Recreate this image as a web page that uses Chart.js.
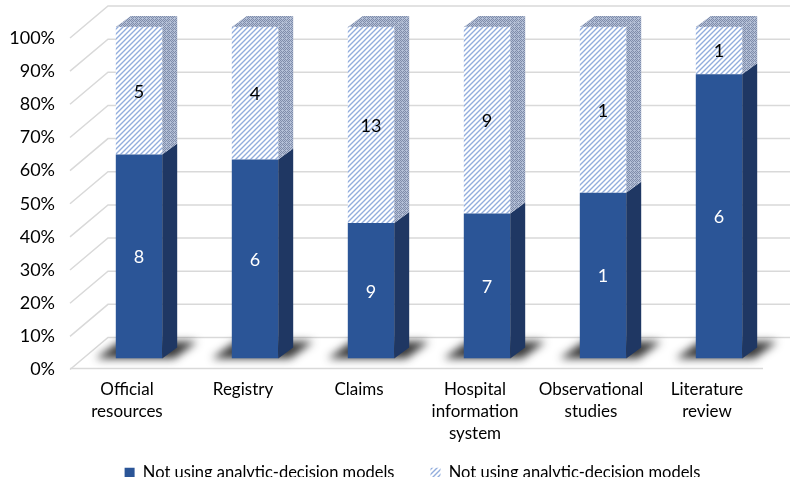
<!DOCTYPE html>
<html>
<head>
<meta charset="utf-8">
<script src="https://cdn.jsdelivr.net/npm/chart.js@4.4.1/dist/chart.umd.min.js"></script>
<style>
  html, body { margin: 0; padding: 0; background: #fff; }
  #wrap { width: 793px; height: 477px; overflow: hidden; }
</style>
</head>
<body>
<div id="wrap"><canvas id="graphique" width="793" height="511"></canvas></div>
<script>
// données (nombre d'études)
const categories = [['Official', 'resources'], ['Registry'], ['Claims'], ['Hospital', 'information', 'system'], ['Observational', 'studies'], ['Literature', 'review']];
const seriesNames = ['Not using analytic-decision models', 'Not using analytic-decision models'];
const countsSolid = [8, 6, 9, 7, 1, 6];
const countsHatch = [5, 4, 13, 9, 1, 1];
const yTicks = [0, 10, 20, 30, 40, 50, 60, 70, 80, 90, 100];

const blue = '#2b5597';
const blueSide = '#1f3763';
const depthX = 15;   // profondeur 3D
const depthY = -11;

// histogramme 100% : part de chaque série
const totals = countsSolid.map((v, i) => v + countsHatch[i]);
const pctSolid = countsSolid.map((v, i) => v / totals[i] * 100);
const pctHatch = countsHatch.map((v, i) => v / totals[i] * 100);

function makeHatch() {
    const c = document.createElement('canvas');
    c.width = 5; c.height = 5;
    const g = c.getContext('2d');
    g.fillStyle = '#ffffff';
    g.fillRect(0, 0, 5, 5);
    g.strokeStyle = '#92addd';
    g.lineWidth = 1.4;
    g.beginPath();
    g.moveTo(-1, 6); g.lineTo(6, -1);
    g.moveTo(-1, 1); g.lineTo(1, -1);
    g.moveTo(4, 6); g.lineTo(6, 4);
    g.stroke();
    return g.createPattern(c, 'repeat');
}

function makeCross() {
    const c = document.createElement('canvas');
    c.width = 4; c.height = 4;
    const g = c.getContext('2d');
    g.fillStyle = '#b3bfd6';
    g.fillRect(0, 0, 4, 4);
    g.fillStyle = '#7f8caa';
    g.fillRect(0, 0, 1, 1); g.fillRect(2, 0, 1, 1);
    g.fillRect(1, 1, 1, 1); g.fillRect(3, 1, 1, 1);
    g.fillRect(0, 2, 1, 1); g.fillRect(3, 3, 1, 1);
    g.fillRect(1, 3, 1, 1);
    return g.createPattern(c, 'repeat');
}

const hatch = makeHatch();
const cross = makeCross();

// mur du fond, sol et ombres
const decorPlugin = {
    id: 'decor',
    afterLayout(chart) {
        // légende placée comme dans l'original (coupée en bas)
        chart.legend.left += 24;
        chart.legend.right += 24;
        chart.legend.top -= 20;
        chart.legend.bottom -= 20;
    },
    beforeDatasetsDraw(chart) {
        const ctx = chart.ctx;
        const y = chart.scales.y;
        ctx.save();
        ctx.strokeStyle = '#d9d9d9';
        ctx.lineWidth = 1.5;
        yTicks.forEach(v => {
            const py = y.getPixelForValue(v);
            ctx.beginPath();
            ctx.moveTo(70, py + 11);
            ctx.lineTo(108, py - 21);
            ctx.lineTo(790, py - 21);
            ctx.stroke();
        });
        const y0 = y.getPixelForValue(0);
        ctx.beginPath();
        ctx.moveTo(70, y0 + 10);
        ctx.lineTo(763, y0 + 10);
        ctx.stroke();

        // ombres au sol
        const meta = chart.getDatasetMeta(0);
        ctx.filter = 'blur(4px)';
        ctx.fillStyle = 'rgba(20,20,20,0.85)';
        meta.data.forEach(bar => {
            const l = bar.x - bar.width / 2;
            const r = bar.x + bar.width / 2;
            const b = bar.base;
            ctx.beginPath();
            ctx.moveTo(l - 20, b);
            ctx.lineTo(r + 12, b);
            ctx.lineTo(r + depthX + 20, b - 17);
            ctx.lineTo(l + 4, b - 17);
            ctx.closePath();
            ctx.fill();
        });
        ctx.restore();
    },
    afterDatasetsDraw(chart) {
        const ctx = chart.ctx;
        ctx.save();
        chart.data.datasets.forEach((ds, di) => {
            const meta = chart.getDatasetMeta(di);
            meta.data.forEach(bar => {
                const l = bar.x - bar.width / 2;
                const r = bar.x + bar.width / 2;
                const top = bar.y, bot = bar.base;
                // face de côté
                ctx.fillStyle = di === 0 ? blueSide : cross;
                ctx.beginPath();
                ctx.moveTo(r, top);
                ctx.lineTo(r + depthX, top + depthY);
                ctx.lineTo(r + depthX, bot + depthY);
                ctx.lineTo(r, bot);
                ctx.closePath();
                ctx.fill();
                // dessus
                if (di === chart.data.datasets.length - 1) {
                    ctx.beginPath();
                    ctx.moveTo(l, top);
                    ctx.lineTo(r, top);
                    ctx.lineTo(r + depthX, top + depthY);
                    ctx.lineTo(l + depthX, top + depthY);
                    ctx.closePath();
                    ctx.fill();
                }
            });
        });
        // étiquettes de données
        ctx.font = '18px Lato';
        ctx.textAlign = 'center';
        ctx.textBaseline = 'middle';
        const counts = [countsSolid, countsHatch];
        chart.data.datasets.forEach((ds, di) => {
            const meta = chart.getDatasetMeta(di);
            meta.data.forEach((bar, i) => {
                ctx.fillStyle = di === 0 ? '#ffffff' : '#000000';
                ctx.fillText(String(counts[di][i]), bar.x, (bar.y + bar.base) / 2 + 1);
            });
        });
        ctx.restore();
    }
};

const ctx = document.getElementById('graphique').getContext('2d');
const myChart = new Chart(ctx, {
    type: 'bar',
    data: {
        labels: categories,
        datasets: [
            { label: seriesNames[0], data: pctSolid, backgroundColor: blue, borderWidth: 0 },
            { label: seriesNames[1], data: pctHatch, backgroundColor: hatch, borderWidth: 0 }
        ]
    },
    options: {
        responsive: false,
        devicePixelRatio: 1,
        animation: false,
        layout: { padding: { top: 27, right: 16, left: 0, bottom: 0 } },
        datasets: { bar: { categoryPercentage: 1, barPercentage: 0.4 } },
        scales: {
            x: {
                stacked: true,
                grid: { display: false, drawTicks: false },
                border: { display: false },
                ticks: { color: '#000', font: { family: 'Lato', size: 17, lineHeight: 1.3 }, padding: 20, labelOffset: -12, maxRotation: 0 },
                afterFit: s => { s.height = 90; }
            },
            y: {
                stacked: true,
                min: 0,
                max: 100,
                grid: { display: false, drawTicks: false },
                border: { display: false },
                ticks: { stepSize: 10, color: '#000', font: { family: 'Lato', size: 18 }, padding: 26, labelOffset: 11, callback: v => v + '%' },
                afterFit: s => { s.width = 81; s.paddingTop = 0; s.paddingBottom = 0; }
            }
        },
        plugins: {
            legend: {
                position: 'bottom',
                labels: { color: '#000', font: { family: 'Lato', size: 16.5 }, boxWidth: 10, boxHeight: 10, padding: 36 }
            },
            tooltip: { enabled: false }
        }
    },
    plugins: [decorPlugin]
});
</script>
</body>
</html>
